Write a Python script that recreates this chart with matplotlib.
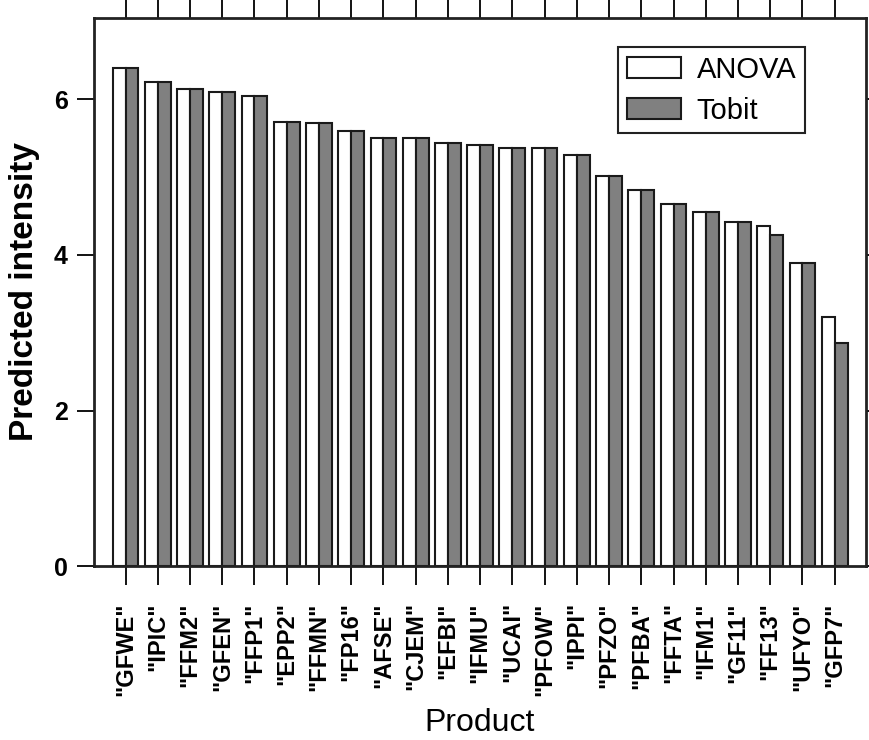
import matplotlib
matplotlib.use('Agg')
import matplotlib.pyplot as plt
import numpy as np

plt.rcParams['font.family'] = ['Liberation Sans', 'DejaVu Sans']

products = ['"GFWE"', '"IPIC"', '"FFM2"', '"GFEN"', '"FFP1"', '"EPP2"', '"FFMN"',
            '"FP16"', '"AFSE"', '"CJEM"', '"EFBI"', '"IFMU"', '"UCAI"', '"PFOW"',
            '"IPPI"', '"PFZO"', '"PFBA"', '"FFTA"', '"IFM1"', '"GF11"', '"FF13"',
            '"UFYO"', '"GFP7"']
anova = [6.40, 6.23, 6.14, 6.10, 6.04, 5.71, 5.70, 5.60, 5.51, 5.50, 5.44, 5.42,
         5.38, 5.38, 5.29, 5.02, 4.83, 4.66, 4.55, 4.42, 4.37, 3.90, 3.20]
tobit = [6.40, 6.23, 6.14, 6.10, 6.04, 5.71, 5.70, 5.60, 5.51, 5.50, 5.44, 5.42,
         5.38, 5.38, 5.29, 5.02, 4.83, 4.66, 4.55, 4.42, 4.26, 3.90, 2.87]

x = np.arange(len(products))
w = 0.4

fig = plt.figure(figsize=(8.7, 7.4), dpi=100)
ax = fig.add_axes([0.108, 0.235, 0.887, 0.741])

ax.bar(x - w / 2, anova, w, color='white', edgecolor='#1a1a1a', linewidth=1.5, label='ANOVA')
ax.bar(x + w / 2, tobit, w, color='#808080', edgecolor='#1a1a1a', linewidth=1.5, label='Tobit')

ax.set_xlim(-0.98, len(products) - 0.04)
ax.set_ylim(0, 7.05)
ax.set_yticks([0, 2, 4, 6])
ax.set_xticks(x)
ax.set_xticklabels(products, rotation=90, fontweight='bold', fontsize=17)
for lab in ax.get_yticklabels():
    lab.set_fontweight('bold')
ax.tick_params(axis='y', labelsize=18, length=12, width=1.3, right=True, pad=7)
ax.tick_params(axis='x', length=14, width=1.3, top=True, pad=12)

for s in ax.spines.values():
    s.set_linewidth(2)
    s.set_color('#222222')

ax.set_ylabel('Predicted intensity', fontsize=24, fontweight='bold', labelpad=10)
ax.set_xlabel('Product', fontsize=23, labelpad=9)

leg = ax.legend(loc='upper left', bbox_to_anchor=(0.679, 0.947), borderaxespad=0,
                fancybox=False, edgecolor='#222222', fontsize=21, handlelength=1.85,
                handleheight=0.75, handletextpad=0.55, borderpad=0.3,
                labelspacing=0.45, framealpha=1)
leg.get_frame().set_linewidth(1.5)

plt.savefig('out.png', dpi=100)
